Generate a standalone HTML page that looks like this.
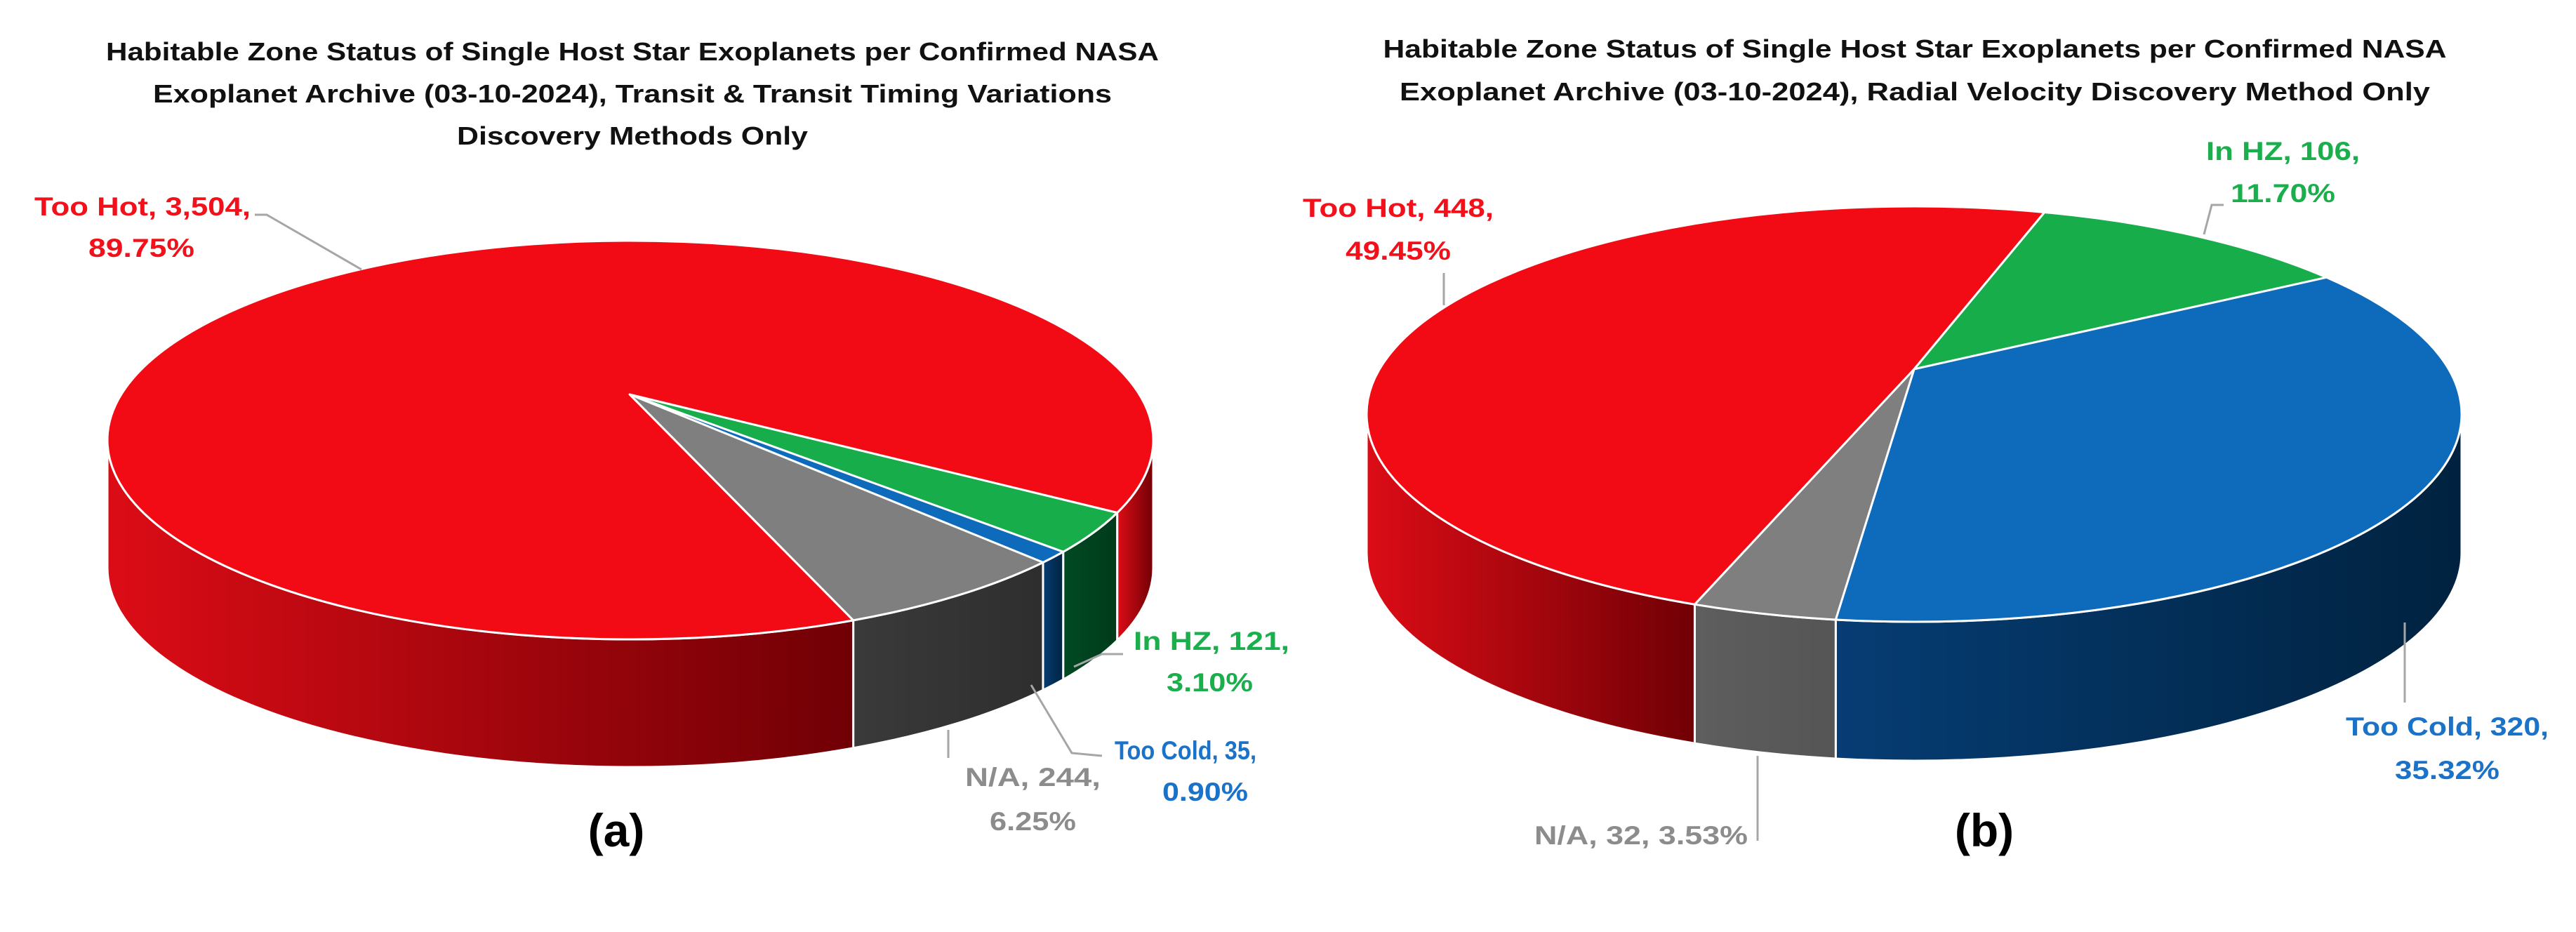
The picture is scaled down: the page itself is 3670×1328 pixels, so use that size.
<!DOCTYPE html>
<html><head><meta charset="utf-8"><style>
html,body{margin:0;padding:0;background:#fff}
svg{display:block}
text{font-family:"Liberation Sans",Arial,sans-serif;font-weight:bold}
</style></head><body>
<svg id="svg" width="3670" height="1328" viewBox="0 0 3670 1328">
<defs>
<linearGradient id="gRed" x1="0" x2="1" y1="0" y2="0"><stop offset="0" stop-color="#dc0c16"/><stop offset="1" stop-color="#700005"/></linearGradient>
<linearGradient id="gBlue" x1="0" x2="1" y1="0" y2="0"><stop offset="0" stop-color="#063d74"/><stop offset="1" stop-color="#00223f"/></linearGradient>
<linearGradient id="gGrayA" x1="0" x2="1"><stop offset="0" stop-color="#3a3a3a"/><stop offset="1" stop-color="#2e2e2e"/></linearGradient>
<linearGradient id="gGrayB" x1="0" x2="1"><stop offset="0" stop-color="#5e5e5e"/><stop offset="1" stop-color="#555"/></linearGradient>
<linearGradient id="gGreen" x1="0" x2="1"><stop offset="0" stop-color="#004a22"/><stop offset="1" stop-color="#003a1a"/></linearGradient>
</defs>
<g id="chartA"></g>
<g id="chartB"></g>

<g font-size="36" text-anchor="middle" fill="#111">
<text x="901" y="86" textLength="1500" lengthAdjust="spacingAndGlyphs">Habitable Zone Status of Single Host Star Exoplanets per Confirmed NASA</text>
<text x="901" y="146" textLength="1366" lengthAdjust="spacingAndGlyphs">Exoplanet Archive (03-10-2024), Transit &amp; Transit Timing Variations</text>
<text x="901" y="206" textLength="500" lengthAdjust="spacingAndGlyphs">Discovery Methods Only</text>
</g>
<g font-size="36" text-anchor="middle" fill="#111">
<text x="2728" y="82" textLength="1515" lengthAdjust="spacingAndGlyphs">Habitable Zone Status of Single Host Star Exoplanets per Confirmed NASA</text>
<text x="2728" y="143" textLength="1468" lengthAdjust="spacingAndGlyphs">Exoplanet Archive (03-10-2024), Radial Velocity Discovery Method Only</text>
</g>

<g font-size="37" stroke="none">
<g fill="#f2101a">
<text x="49" y="307" textLength="308" lengthAdjust="spacingAndGlyphs">Too Hot, 3,504,</text>
<text x="126" y="366" textLength="151" lengthAdjust="spacingAndGlyphs">89.75%</text></g>
<g fill="#1aaf4c">
<text x="1615" y="926" textLength="222" lengthAdjust="spacingAndGlyphs">In HZ, 121,</text>
<text x="1662" y="985" textLength="123" lengthAdjust="spacingAndGlyphs">3.10%</text></g>
<g fill="#1a73c8">
<text x="1588" y="1082" textLength="202" lengthAdjust="spacingAndGlyphs">Too Cold, 35,</text>
<text x="1656" y="1141" textLength="122" lengthAdjust="spacingAndGlyphs">0.90%</text></g>
<g fill="#8c8c8c">
<text x="1375" y="1120" textLength="193" lengthAdjust="spacingAndGlyphs">N/A, 244,</text>
<text x="1410" y="1183" textLength="123" lengthAdjust="spacingAndGlyphs">6.25%</text></g>

<g fill="#f2101a">
<text x="1856" y="309" textLength="272" lengthAdjust="spacingAndGlyphs">Too Hot, 448,</text>
<text x="1917" y="370" textLength="150" lengthAdjust="spacingAndGlyphs">49.45%</text></g>
<g fill="#1aaf4c">
<text x="3143" y="228" textLength="219" lengthAdjust="spacingAndGlyphs">In HZ, 106,</text>
<text x="3178" y="288" textLength="149" lengthAdjust="spacingAndGlyphs">11.70%</text></g>
<g fill="#1a73c8">
<text x="3342" y="1048" textLength="289" lengthAdjust="spacingAndGlyphs">Too Cold, 320,</text>
<text x="3412" y="1110" textLength="149" lengthAdjust="spacingAndGlyphs">35.32%</text></g>
<g fill="#8c8c8c">
<text x="2186" y="1203" textLength="304" lengthAdjust="spacingAndGlyphs">N/A, 32, 3.53%</text></g>
</g>

<g stroke="#a6a6a6" stroke-width="3" fill="none">
<polyline points="363,306 380,306 515,384"/>
<polyline points="1600,932 1570,932 1530,950"/>
<polyline points="1469,976 1527,1073 1570,1077"/>
<polyline points="1351,1040 1351,1080"/>
<polyline points="2057,389 2057,435"/>
<polyline points="3168,292 3151,292 3140,334"/>
<polyline points="3426,887 3426,1001"/>
<polyline points="2504,1077 2504,1198"/>
</g>

<text x="878" y="1206" font-size="66" text-anchor="middle" fill="#000">(a)</text>
<text x="2827" y="1206" font-size="66" text-anchor="middle" fill="#000">(b)</text>
</svg>
<script>
var categories = ["In HZ", "Too Cold", "N/A", "Too Hot"];
var valuesA = [121, 35, 244, 3504];
var valuesB = [106, 320, 32, 448];

var NS = "http://www.w3.org/2000/svg";
var topColors = ["#17ad4b", "#0e6bbb", "#7f7f7f", "#f20a14"];
var sideA = ["url(#gGreen)", "url(#gBlue)", "url(#gGrayA)", "url(#gRed)"];
var sideB = ["url(#gGreen)", "url(#gBlue)", "url(#gGrayB)", "url(#gRed)"];

function drawPie(g, values, geo, sideFills) {
  var total = values.reduce(function(a, b){return a + b;}, 0);
  var h = (geo.ay - geo.cy) / geo.ry;
  // ray from apex at angle t (normalized space) -> parametric angle on ellipse
  function toParam(tDeg) {
    var t = tDeg * Math.PI / 180, c = Math.cos(t), s = Math.sin(t);
    var k = -h * s + Math.sqrt(h * h * s * s - h * h + 1);
    var px = k * c, py = h + k * s;
    var p = Math.atan2(py, px) * 180 / Math.PI;
    while (p - tDeg > 180) p -= 360;
    while (p - tDeg < -180) p += 360;
    return p;
  }
  function P(a, dy) {
    var r = a * Math.PI / 180;
    return [geo.cx + geo.rx * Math.cos(r), geo.cy + geo.ry * Math.sin(r) + (dy || 0)];
  }
  var slices = [];
  var a = geo.start;
  values.forEach(function(v, i) {
    var span = v / total * 360;
    slices.push({i: i, a0: toParam(a), a1: toParam(a + span)});
    a += span;
  });
  slices.forEach(function(s) {
    [[0, 180], [360, 540], [-360, -180]].forEach(function(w) {
      var b0 = Math.max(s.a0, w[0]), b1 = Math.min(s.a1, w[1]);
      if (b1 - b0 <= 0.01) return;
      var p0 = P(b0), p1 = P(b1), q1 = P(b1, geo.depth), q0 = P(b0, geo.depth);
      var d = "M" + p0 + " A" + geo.rx + " " + geo.ry + " 0 0 1 " + p1 +
              " L" + q1 + " A" + geo.rx + " " + geo.ry + " 0 0 0 " + q0 + " Z";
      var path = document.createElementNS(NS, "path");
      path.setAttribute("d", d);
      path.setAttribute("fill", sideFills[s.i]);
      path.setAttribute("stroke", "#ffffff");
      path.setAttribute("stroke-width", "3");
      
      
      g.appendChild(path);
    });
  });
  slices.forEach(function(s) {
    var p0 = P(s.a0), p1 = P(s.a1);
    var large = (s.a1 - s.a0) > 180 ? 1 : 0;
    var d = "M" + geo.ax + "," + geo.ay + " L" + p0 + " A" + geo.rx + " " + geo.ry + " 0 " + large + " 1 " + p1 + " Z";
    var path = document.createElementNS(NS, "path");
    path.setAttribute("d", d);
    path.setAttribute("fill", topColors[s.i]);
    path.setAttribute("stroke", "#ffffff");
    path.setAttribute("stroke-width", "3");
    path.setAttribute("stroke-linejoin", "round");
    
    
    g.appendChild(path);
  });
}
drawPie(document.getElementById("chartA"), valuesA,
  {cx: 898, cy: 627, rx: 745, ry: 284, ax: 897, ay: 562, depth: 182, start: 32.5}, sideA);
drawPie(document.getElementById("chartB"), valuesB,
  {cx: 2727, cy: 590, rx: 780, ry: 296, ax: 2727, ay: 526, depth: 198, start: -72.5}, sideB);
</script>
</body></html>
